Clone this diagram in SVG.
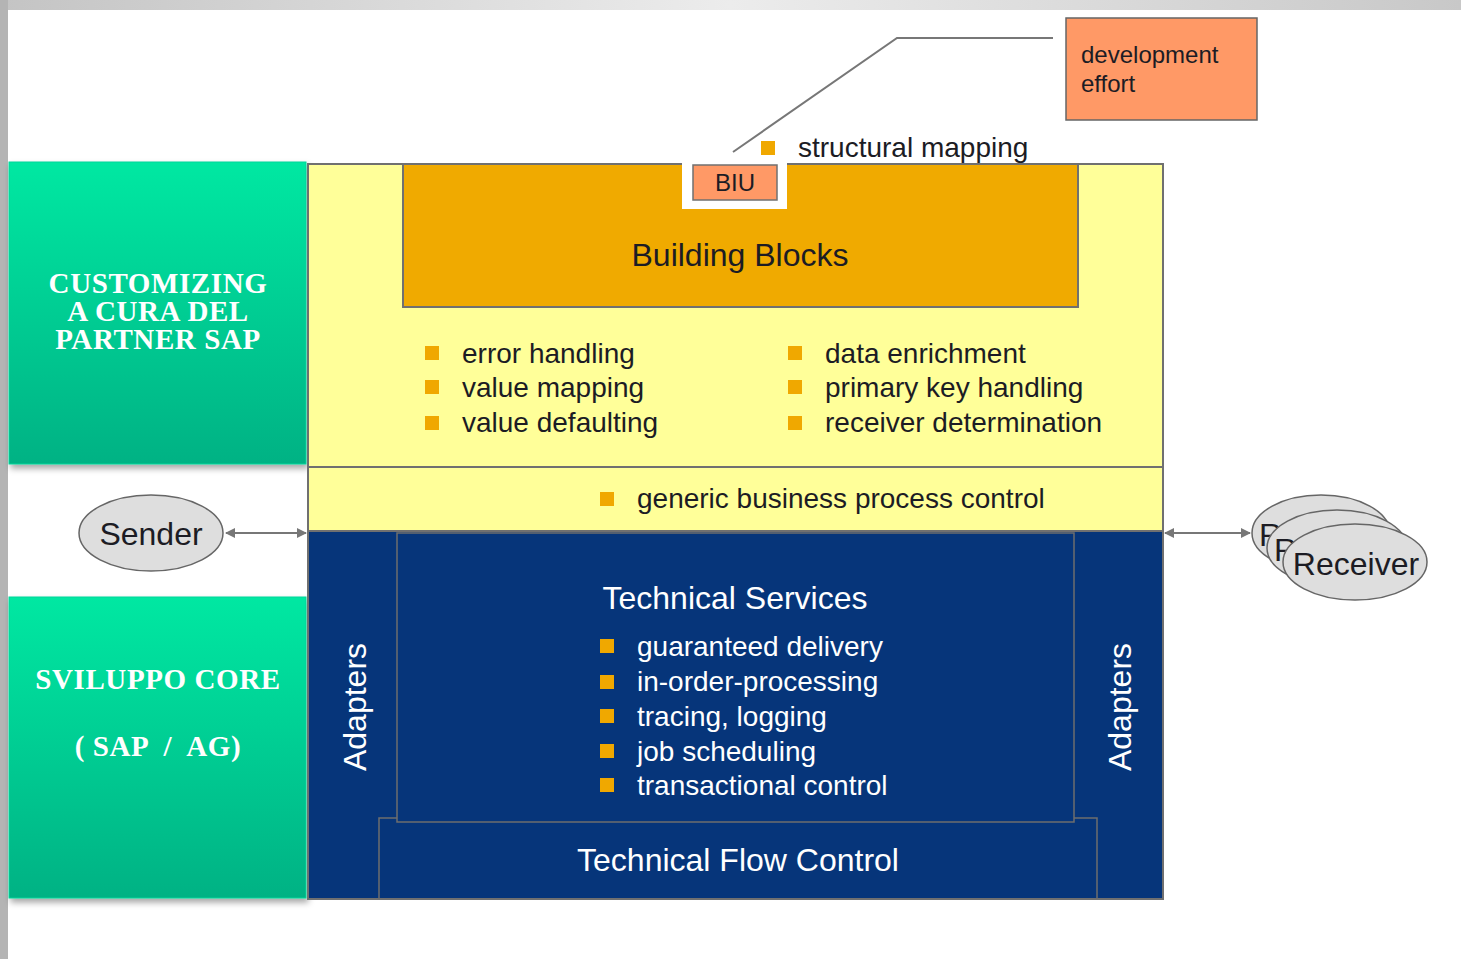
<svg xmlns="http://www.w3.org/2000/svg" width="1461" height="959" viewBox="0 0 1461 959">
<defs>
<linearGradient id="gGreen" x1="0" y1="0" x2="0" y2="1">
<stop offset="0" stop-color="#00e8a2"/>
<stop offset="1" stop-color="#00b284"/>
</linearGradient>
<linearGradient id="gTop" x1="0" y1="0" x2="1" y2="0">
<stop offset="0" stop-color="#c4c4c4"/>
<stop offset="0.5" stop-color="#ececec"/>
<stop offset="1" stop-color="#c8c8c8"/>
</linearGradient>
<filter id="shadow" x="-5%" y="-5%" width="115%" height="115%">
<feDropShadow dx="2" dy="4" stdDeviation="3" flood-color="#000" flood-opacity="0.35"/>
</filter>
<marker id="arr" viewBox="0 0 10 10" refX="9" refY="5" markerWidth="5" markerHeight="5" orient="auto-start-reverse" markerUnits="strokeWidth">
<path d="M0,0 L10,5 L0,10 z" fill="#777"/>
</marker>
<style>
.sans{font-family:"Liberation Sans",Arial,sans-serif;}
.dark{fill:#1c1c24;}
.white{fill:#ffffff;}
.t28{font-size:28px;}
.t32{font-size:32px;}
.green{font-family:"Liberation Serif","Times New Roman",serif;font-weight:bold;font-size:29px;letter-spacing:0.6px;fill:#ffffff;}
.bul{fill:#f0a800;}
.frame{stroke:#707070;stroke-width:2;}
.ell{fill:#dedede;stroke:#666;stroke-width:1.5;}
.conn{stroke:#777;stroke-width:2;fill:none;}
</style>
</defs>

<!-- page background -->
<rect x="0" y="0" width="1461" height="959" fill="#ffffff"/>
<rect x="0" y="0" width="1461" height="10" fill="url(#gTop)"/>
<rect x="0" y="0" width="8" height="959" fill="#b4b4b4"/>

<!-- green side boxes -->
<g id="customizing">
<rect x="9" y="162" width="297" height="302" fill="url(#gGreen)" stroke="#00d69a" stroke-width="1" filter="url(#shadow)"/>
<text class="green" text-anchor="middle"><tspan x="158" y="293">CUSTOMIZING</tspan><tspan x="158" y="321">A CURA DEL</tspan><tspan x="158" y="349">PARTNER SAP</tspan></text>
</g>
<g id="sviluppo">
<rect x="9" y="597" width="297" height="301" fill="url(#gGreen)" stroke="#00d69a" stroke-width="1" filter="url(#shadow)"/>
<text class="green" text-anchor="middle"><tspan x="158" y="689">SVILUPPO CORE</tspan><tspan x="158" y="756" xml:space="preserve">( SAP  /  AG)</tspan></text>
</g>

<!-- yellow integration area -->
<g id="yellow-area">
<rect x="308" y="164" width="855" height="367" fill="#ffff99" class="frame"/>
<line x1="308" y1="467" x2="1163" y2="467" class="frame"/>
</g>

<g id="building-blocks">
<rect x="403" y="164" width="675" height="143" fill="#f0aa00" class="frame"/>
<text class="sans dark t32" x="740" y="266" text-anchor="middle">Building Blocks</text>
</g>

<g id="biu">
<rect x="682" y="163" width="105" height="46" fill="#ffffff"/>
<rect x="693" y="165" width="84" height="35" fill="#ff9966" stroke="#707070" stroke-width="1.5"/>
<text class="sans dark" font-size="24" x="735" y="191" text-anchor="middle">BIU</text>
</g>

<g id="yellow-bullets">
<rect class="bul" x="425" y="346" width="14" height="14"/>
<rect class="bul" x="425" y="380" width="14" height="14"/>
<rect class="bul" x="425" y="416" width="14" height="14"/>
<text class="sans dark t28" x="462" y="363">error handling</text>
<text class="sans dark t28" x="462" y="397">value mapping</text>
<text class="sans dark t28" x="462" y="432">value defaulting</text>
<rect class="bul" x="788" y="346" width="14" height="14"/>
<rect class="bul" x="788" y="380" width="14" height="14"/>
<rect class="bul" x="788" y="416" width="14" height="14"/>
<text class="sans dark t28" x="825" y="363">data enrichment</text>
<text class="sans dark t28" x="825" y="397">primary key handling</text>
<text class="sans dark t28" x="825" y="432">receiver determination</text>
</g>

<g id="generic-control">
<rect class="bul" x="600" y="492" width="14" height="14"/>
<text class="sans dark t28" x="637" y="508">generic business process control</text>
</g>

<g id="structural-mapping">
<rect class="bul" x="761" y="141" width="14" height="14"/>
<text class="sans dark t28" x="798" y="157">structural mapping</text>
</g>

<g id="development-effort">
<rect x="1066" y="18" width="191" height="102" fill="#ff9966" stroke="#666" stroke-width="1.5"/>
<text class="sans dark" font-size="24"><tspan x="1081" y="63">development</tspan><tspan x="1081" y="92">effort</tspan></text>
</g>

<!-- blue technical area -->
<g id="blue-area">
<rect x="308" y="531" width="855" height="368" fill="#06357a" class="frame"/>
</g>

<g id="technical-services">
<rect x="397" y="533" width="677" height="289" fill="#06357a" stroke="#6e6e6e" stroke-width="1.5"/>
<text class="sans white t32" x="735" y="609" text-anchor="middle">Technical Services</text>
<rect class="bul" x="600" y="639" width="14" height="14"/>
<rect class="bul" x="600" y="675" width="14" height="14"/>
<rect class="bul" x="600" y="709" width="14" height="14"/>
<rect class="bul" x="600" y="744" width="14" height="14"/>
<rect class="bul" x="600" y="778" width="14" height="14"/>
<text class="sans white t28" x="637" y="656">guaranteed delivery</text>
<text class="sans white t28" x="637" y="691">in-order-processing</text>
<text class="sans white t28" x="637" y="726">tracing, logging</text>
<text class="sans white t28" x="637" y="761">job scheduling</text>
<text class="sans white t28" x="637" y="795">transactional control</text>
</g>

<g id="technical-flow-control">
<path d="M379,899 L379,818 L397,818 M1074,818 L1097,818 L1097,899" fill="none" stroke="#6e6e6e" stroke-width="1.5"/>
<text class="sans white t32" x="738" y="871" text-anchor="middle">Technical Flow Control</text>
</g>

<g id="adapters-left">
<text class="sans white t32" text-anchor="middle" transform="translate(366,707) rotate(-90)">Adapters</text>
</g>
<g id="adapters-right">
<text class="sans white t32" text-anchor="middle" transform="translate(1131,707) rotate(-90)">Adapters</text>
</g>

<!-- sender / receiver -->
<g id="sender">
<ellipse class="ell" cx="151" cy="533" rx="72" ry="38"/>
<text class="sans dark t32" x="151" y="545" text-anchor="middle">Sender</text>
</g>

<g id="receiver">
<ellipse class="ell" cx="1321" cy="533" rx="69" ry="38"/>
<text class="sans dark t32" x="1259" y="546">R</text>
<ellipse class="ell" cx="1337" cy="548" rx="70" ry="38"/>
<text class="sans dark t32" x="1274" y="561">R</text>
<ellipse class="ell" cx="1355" cy="562" rx="72" ry="38"/>
<text class="sans dark t32" x="1356" y="575" text-anchor="middle">Receiver</text>
</g>

<!-- connectors -->
<g id="connectors">
<line class="conn" x1="226" y1="533" x2="306" y2="533" marker-start="url(#arr)" marker-end="url(#arr)"/>
<line class="conn" x1="1165" y1="533" x2="1250" y2="533" marker-start="url(#arr)" marker-end="url(#arr)"/>
<polyline class="conn" points="733,152 897,38 1053,38" stroke="#808080"/>
</g>
</svg>
